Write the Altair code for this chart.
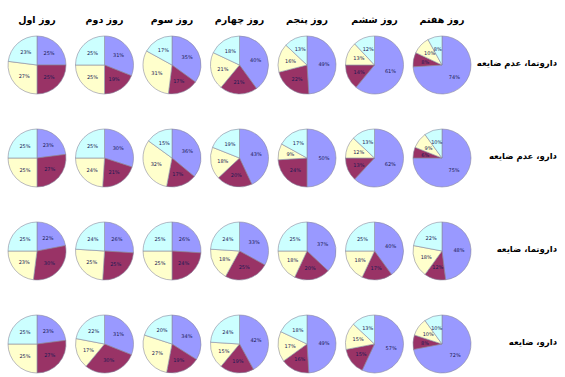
import altair as alt
import pandas as pd

# Column (day) and row (group) headers
days = ["روز اول", "روز دوم", "روز سوم", "روز چهارم", "روز پنجم", "روز ششم", "روز هفتم"]
groups = ["داروتما، عدم ضایعه", "دارو، عدم ضایعه", "داروتما، ضایعه", "دارو، ضایعه"]

# Slice categories in clockwise order from 12 o'clock, with their fills
parts = ["p1", "p2", "p3", "p4"]
part_colors = ["#9999FF", "#993366", "#FFFFCC", "#CCFFFF"]

# Percent shares per day (p1, p2, p3, p4) for each group
g1 = [[25, 25, 27, 23], [31, 19, 25, 25], [35, 17, 31, 17], [40, 21, 21, 18],
      [49, 22, 16, 13], [61, 14, 13, 12], [74, 8, 10, 8]]
g2 = [[23, 27, 25, 25], [30, 21, 24, 25], [36, 17, 32, 15], [43, 20, 18, 19],
      [50, 24, 9, 17], [62, 13, 12, 13], [75, 6, 9, 10]]
g3 = [[22, 30, 23, 25], [26, 25, 25, 24], [26, 24, 25, 25], [33, 25, 18, 24],
      [37, 20, 18, 25], [40, 17, 18, 25], [48, 12, 18, 22]]
g4 = [[23, 27, 25, 25], [31, 30, 17, 22], [34, 19, 27, 20], [42, 19, 15, 24],
      [49, 16, 17, 18], [57, 15, 15, 13], [72, 8, 10, 10]]
shares = [g1, g2, g3, g4]

records = []
for gi, group in enumerate(groups):
    for di, day in enumerate(days):
        for k, part in enumerate(parts):
            v = shares[gi][di][k]
            records.append({"group": group, "day": day, "part": part, "k": k,
                            "share": v, "lab": f"{v}%"})
df = pd.DataFrame(records)

base = alt.Chart().encode(
    theta=alt.Theta("share:Q", stack=True),
    order=alt.Order("k:O"),
)
pie = base.mark_arc(outerRadius=29, stroke="#8a8aa0", strokeWidth=0.6).encode(
    color=alt.Color("part:N", scale=alt.Scale(domain=parts, range=part_colors), legend=None)
)
labels = base.mark_text(radius=17, fontSize=5, color="#1a1a55", font="DejaVu Sans").encode(
    text="lab:N"
)
# Group name to the right of the last day's pie
row_names = (
    alt.Chart()
    .mark_text(align="right", baseline="middle", font="DejaVu Sans",
               fontWeight="bold", fontSize=8.5, color="#000000")
    .encode(text="group:N", x=alt.value(146), y=alt.value(30))
    .transform_filter((alt.datum.day == days[-1]) & (alt.datum.k == 0))
)

chart = (
    alt.layer(pie, labels, row_names, data=df)
    .properties(width=62, height=64)
    .facet(
        row=alt.Row("group:N", sort=groups, title=None, header=alt.Header(labels=False)),
        column=alt.Column("day:N", sort=days, title=None, header=alt.Header(
            labelOrient="top", labelFont="DejaVu Sans",
            labelFontWeight="bold", labelFontSize=9.5, labelColor="#000000",
            labelPadding=9)),
        spacing={"row": 29, "column": 5.5},
        bounds="flush",
    )
    .configure_view(stroke=None)
    .properties(padding={"left": 6, "top": 14, "right": 0, "bottom": 0})
)

chart.save("out.html", embed_options={"renderer": "svg", "actions": False})
